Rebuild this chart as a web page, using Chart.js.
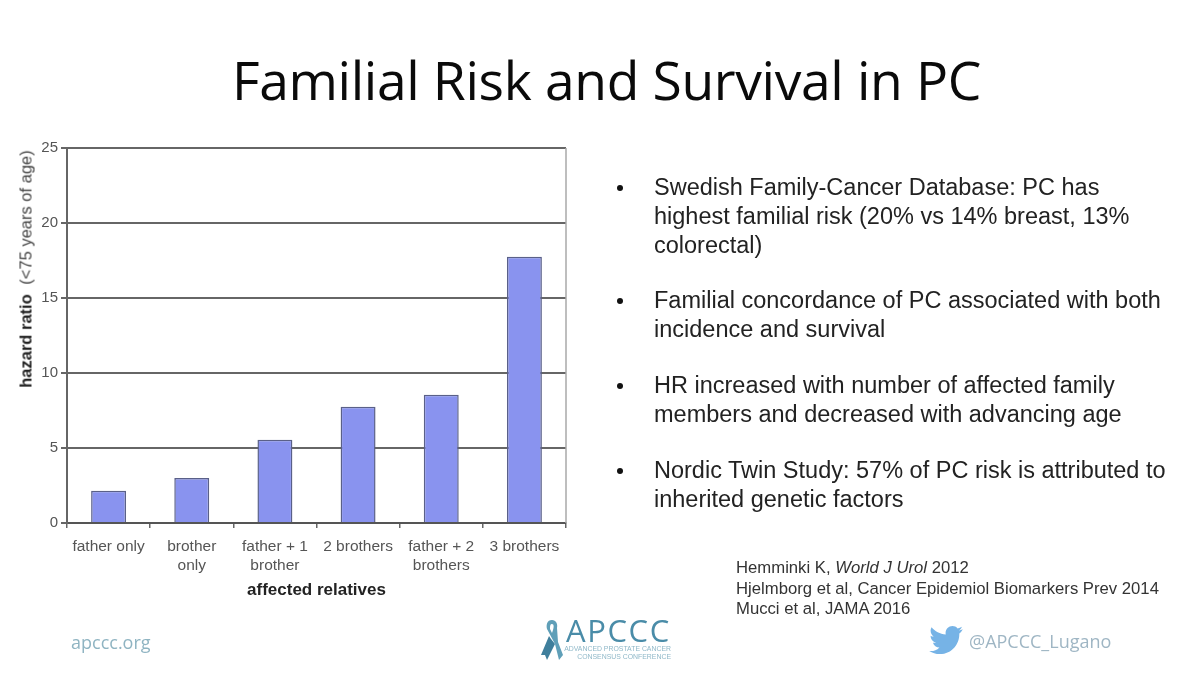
<!DOCTYPE html>
<html>
<head>
<meta charset="utf-8">
<style>
  html, body { margin: 0; padding: 0; background: #fff; }
  #slide { position: relative; width: 1200px; height: 674px; overflow: hidden; background: #fff; font-family: "Liberation Sans", sans-serif; }
  #slide canvas { position: absolute; left: 0; top: 0; }
  .t { position: absolute; white-space: nowrap; }
  #heading { left: 0; width: 1213px; top: 48px; text-align: center; font: 53.4px/1.2 "Open Sans", sans-serif; color: #0a0a0a; letter-spacing: -0.35px; }
  #ytitle { left: 26px; top: 269px; font-size: 16.5px; color: #444; transform: translate(-50%, -50%) rotate(-90deg); }
  #ytitle b { color: #222; margin-right: 5px; }
  .dot { position: absolute; left: 617px; width: 6px; height: 6px; border-radius: 50%; background: #111; }
  .bullet { position: absolute; left: 654px; font-size: 23.5px; line-height: 29px; color: #222; white-space: nowrap; }
  #refs { position: absolute; left: 736px; top: 558px; font-size: 16.7px; line-height: 20.7px; color: #333; white-space: nowrap; }
  #site { left: 71px; top: 630px; font: 18px "Open Sans", sans-serif; color: #8fb4c2; }
  #handle { left: 969px; top: 629px; font: 18px "Open Sans", sans-serif; color: #9fb6c4; }
  #brand { left: 566px; top: 608px; font: 31px/44px "Open Sans", sans-serif; color: #4a8ca8; letter-spacing: 1.6px; }
  .sub { position: absolute; left: 540px; width: 131px; text-align: right; font-size: 6.9px; color: #8fb8c8; white-space: nowrap; }
</style>
</head>
<body>
<div id="slide">
  <div class="t" id="heading">Familial Risk and Survival in PC</div>
  <canvas id="chart" width="1200" height="674"></canvas>
  <div class="t" id="ytitle"><b>hazard ratio</b> (&lt;75 years of age)</div>

  <div class="dot" style="top:185px"></div>
  <div class="bullet" style="top:173px">Swedish Family-Cancer Database: PC has<br>highest familial risk (20% vs 14% breast, 13%<br>colorectal)</div>
  <div class="dot" style="top:298px"></div>
  <div class="bullet" style="top:286px">Familial concordance of PC associated with both<br>incidence and survival</div>
  <div class="dot" style="top:383px"></div>
  <div class="bullet" style="top:371px">HR increased with number of affected family<br>members and decreased with advancing age</div>
  <div class="dot" style="top:468px"></div>
  <div class="bullet" style="top:456px">Nordic Twin Study: 57% of PC risk is attributed to<br>inherited genetic factors</div>

  <div id="refs">Hemminki K, <i>World J Urol</i> 2012<br>Hjelmborg et al, Cancer Epidemiol Biomarkers Prev 2014<br>Mucci et al, JAMA 2016</div>

  <div class="t" id="site">apccc.org</div>

  <svg style="position:absolute;left:540px;top:619px" width="24" height="42" viewBox="0 0 24 42">
    <path d="M12 1 C7 1 6 6 7 10 L15 25 L19 41 L23 36 L18 23 L17 9 C18 5 16 1 12 1 Z M12 5 C14 5 14 8 13 11 L12 14 L10 10 C10 7 10 5 12 5 Z" fill="#5f9fb8" fill-rule="evenodd"/>
    <path d="M9 17 L1 36 L5 36 L7 41 L15 25 L11 20 Z" fill="#3f7f9c"/>
  </svg>
  <div class="t" id="brand">APCCC</div>
  <div class="sub" style="top:645px">ADVANCED PROSTATE CANCER</div>
  <div class="sub" style="top:653px">CONSENSUS CONFERENCE</div>

  <svg style="position:absolute;left:929px;top:626px" width="34" height="28" viewBox="0 0 24 20">
    <path d="M24 2.4c-.9.4-1.8.7-2.8.8 1-.6 1.8-1.6 2.2-2.7-1 .6-2 1-3.1 1.2C19.300.6 18 0 16.600 0c-2.700 0-4.900 2.200-4.900 4.900 0 .4 0 .8.1 1.100C7.700 5.800 4.100 3.900 1.700.9 1.200 1.600 1 2.500 1 3.400c0 1.700.9 3.200 2.200 4.100-.8 0-1.600-.2-2.200-.6v.1c0 2.400 1.700 4.400 3.900 4.800-.7.2-1.500.2-2.200.1.600 2 2.400 3.400 4.600 3.400C5.600 17.100 3.400 17.900 1.200 17.900c-.4 0-.8 0-1.200-.1C2.200 19.200 4.800 20 7.500 20c9.100 0 14-7.500 14-14v-.6c1-.7 1.800-1.600 2.500-3z" fill="#76b3e6"/>
  </svg>
  <div class="t" id="handle">@APCCC_Lugano</div>
</div>

<script src="https://cdn.jsdelivr.net/npm/chart.js@4/dist/chart.umd.js"></script>
<script>
// Hazard ratio of prostate cancer by affected relatives
const categories = [
  "father only",
  ["brother", "only"],
  ["father + 1", "brother"],
  "2 brothers",
  ["father + 2", "brothers"],
  "3 brothers"
];
const hazardRatio = [2.15, 3.0, 5.55, 7.75, 8.55, 17.75];
const yTicks = [0, 5, 10, 15, 20, 25];
const xAxisTitle = "affected relatives";

// Thin closing line on the right of the plot area
const rightEdge = {
  id: "rightEdge",
  beforeDatasetsDraw(chart) {
    const { ctx, chartArea: a } = chart;
    ctx.save();
    ctx.strokeStyle = "#a8a8a8";
    ctx.lineWidth = 1.5;
    ctx.beginPath();
    ctx.moveTo(a.right, a.top);
    ctx.lineTo(a.right, a.bottom);
    ctx.stroke();
    ctx.restore();
  }
};

new Chart(document.getElementById("chart"), {
  type: "bar",
  plugins: [rightEdge],
  data: {
    labels: categories,
    datasets: [{
      data: hazardRatio,
      backgroundColor: "#8993ef",
      borderColor: "#5a6088",
      borderWidth: 1.5,
      borderSkipped: "bottom",
      categoryPercentage: 1,
      barPercentage: 0.42
    }]
  },
  options: {
    responsive: false,
    animation: false,
    layout: { padding: { left: 0, top: 148, right: 634, bottom: 73 } },
    plugins: { legend: { display: false }, tooltip: { enabled: false } },
    scales: {
      x: {
        offset: true,
        border: { color: "#555", width: 2 },
        grid: { drawOnChartArea: false, tickLength: 5, tickColor: "#666", lineWidth: 1.5, offset: true },
        ticks: {
          color: "#555",
          font: { family: "Liberation Sans", size: 15.5, lineHeight: 1.22 },
          maxRotation: 0,
          autoSkip: false,
          padding: 9
        },
        title: {
          display: true,
          text: xAxisTitle,
          color: "#222",
          font: { family: "Liberation Sans", size: 17, weight: "bold" },
          padding: { top: 0, bottom: 0 }
        },
        afterFit(scale) { scale.height = 78; }
      },
      y: {
        min: 0,
        max: 25,
        afterBuildTicks(scale) { scale.ticks = yTicks.map(value => ({ value })); },
        border: { color: "#666", width: 2 },
        grid: { color: "#666", lineWidth: 2, tickLength: 6, tickColor: "#666" },
        ticks: {
          color: "#555",
          font: { family: "Liberation Sans", size: 15 },
          padding: 3
        },
        afterFit(scale) { scale.width = 67; }
      }
    }
  }
});
</script>
</body>
</html>
